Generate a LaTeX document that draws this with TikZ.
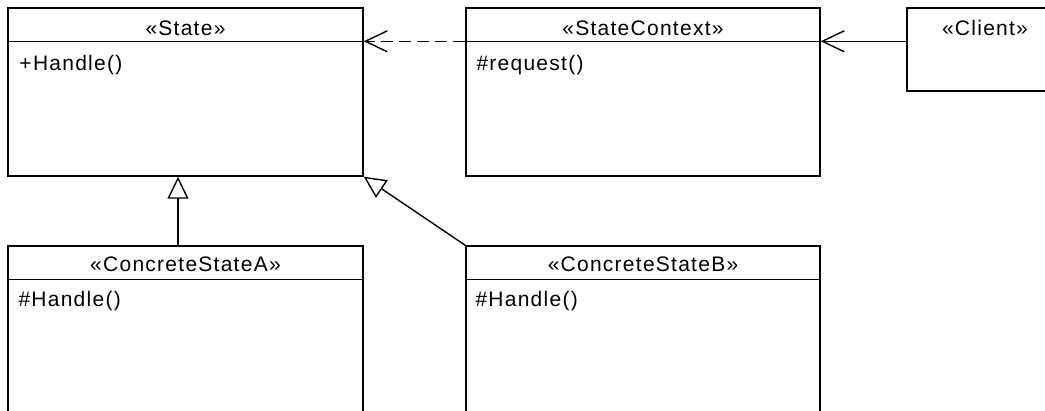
\documentclass[tikz,border=0pt]{standalone}
\usepackage{fontspec}
\setmainfont{Liberation Sans}[LetterSpace=6]
\usetikzlibrary{arrows.meta}

\tikzset{
	classbox/.style={draw, line width=1.4pt, rectangle, inner sep=0pt},
	classtitle/.style={anchor=base, inner sep=0pt, font=\fontsize{21}{25}\selectfont},
	member/.style={anchor=base west, inner sep=0pt, font=\fontsize{21}{25}\selectfont},
	header/.style={line width=1.4pt},
	assoc/.style={line width=1.4pt, -{Straight Barb[length=22pt,width=21pt]}},
	inherit/.style={line width=1.4pt, -{Triangle[open,length=22pt,width=21pt,fill=white]}}
}

\begin{document}
\begin{tikzpicture}[x=1pt, y=1pt]
		\useasboundingbox (0,0) rectangle (1045,-411);
		\clip (0,0) rectangle (1045,-411);
		
		\node[classbox, minimum width=355pt, minimum height=168pt] (state) at(185.5, -92) {};
		\node[classbox, minimum width=354pt, minimum height=168pt] (context) at(643, -92) {};
		\node[classbox, minimum width=156pt, minimum height=83pt] (client) at(985, -49.5) {};
		\node[classbox, minimum width=355pt, minimum height=174pt] (concA) at(185.5, -333) {};
		\node[classbox, minimum width=354pt, minimum height=174pt] (concB) at(643, -333) {};
		
		\draw[header] ([yshift=-34pt]state.north west) -- ([yshift=-34pt]state.north east);
		\draw[header] ([yshift=-34pt]context.north west) -- ([yshift=-34pt]context.north east);
		\draw[header] ([yshift=-34pt]concA.north west) -- ([yshift=-34pt]concA.north east);
		\draw[header] ([yshift=-34pt]concB.north west) -- ([yshift=-34pt]concB.north east);
		
		\node[classtitle] (stateT) at([yshift=-28.5pt]state.north) {«State»};
		\node[classtitle] (contextT) at([yshift=-28.5pt]context.north) {«StateContext»};
		\node[classtitle] (clientT) at([yshift=-28.5pt]client.north) {«Client»};
		\node[classtitle] (concAT) at([yshift=-26.5pt]concA.north) {«ConcreteStateA»};
		\node[classtitle] (concBT) at([yshift=-26.5pt]concB.north) {«ConcreteStateB»};
		
		\node[member] (stateM) at([xshift=12pt, yshift=-63pt]state.north west) {+Handle()};
		\node[member] (contextM) at([xshift=11pt, yshift=-63pt]context.north west) {\#request()};
		\node[member] (concAM) at([xshift=11pt, yshift=-61pt]concA.north west) {\#Handle()};
		\node[member] (concBM) at([xshift=10pt, yshift=-61pt]concB.north west) {\#Handle()};
		
		\draw[assoc, dash pattern=on 12pt off 6pt] ([yshift=-34pt]context.north west) -- ([yshift=-34pt]state.north east);
		\draw[assoc] ([yshift=-34pt]client.north west) -- ([yshift=-34pt]context.north east);
		\draw[inherit] ([xshift=-7.5pt]concA.north) -- ([xshift=-7.5pt]state.south);
		\draw[inherit] (concB.north west) -- (state.south east);
	\end{tikzpicture}
\end{document}
